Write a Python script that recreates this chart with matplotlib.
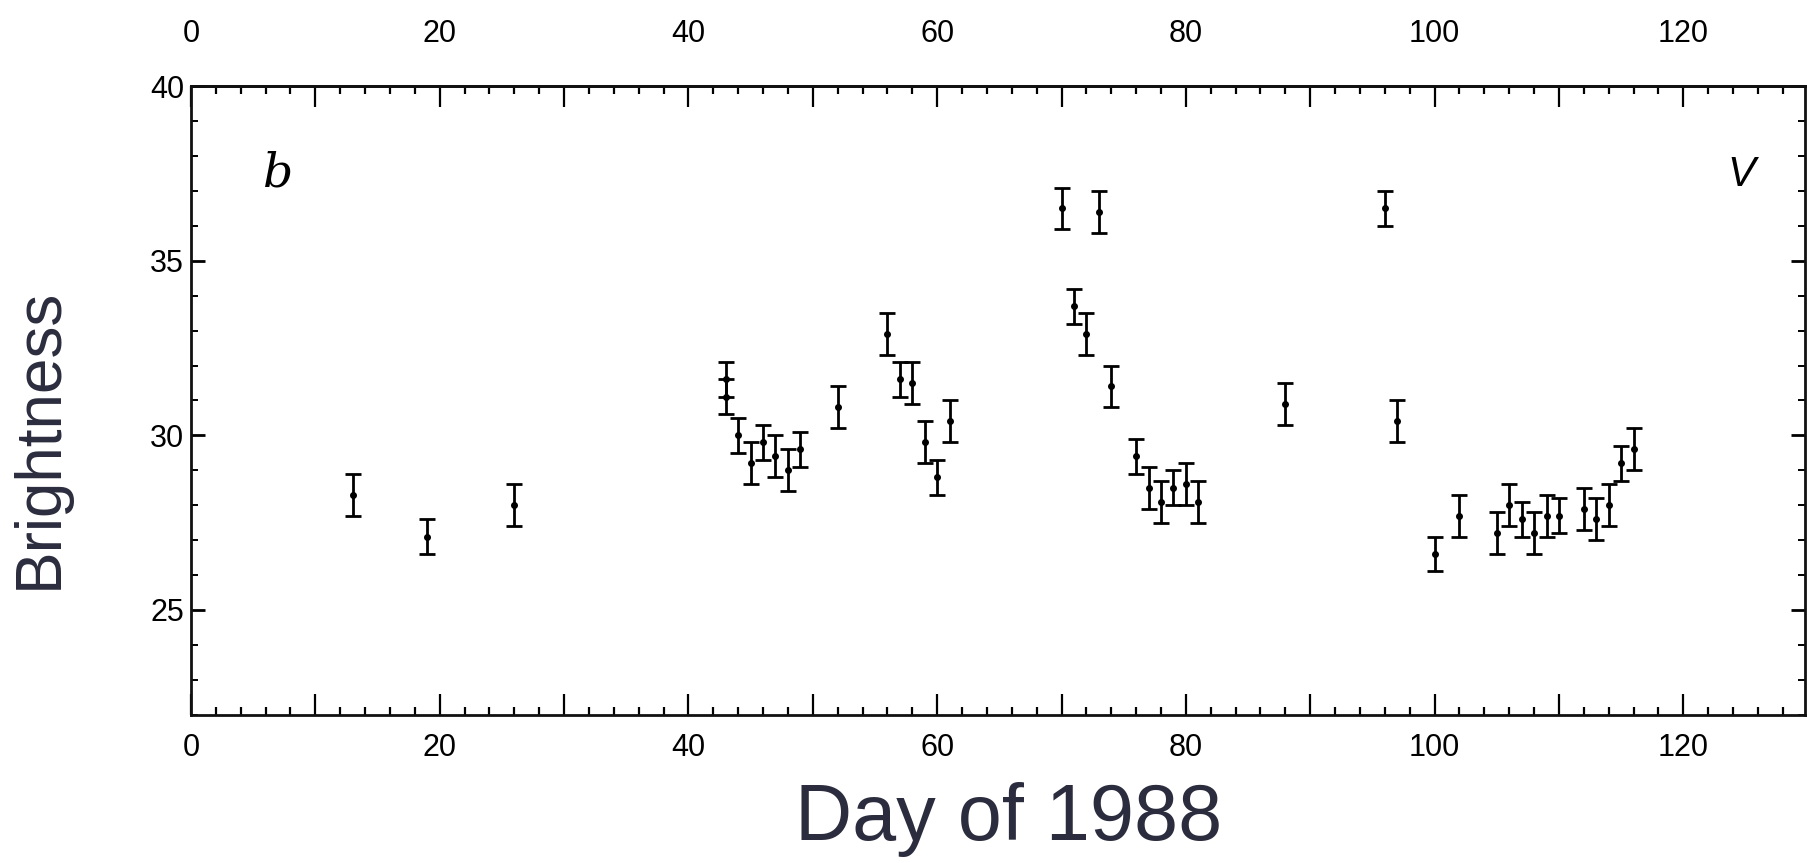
import numpy as np
from matplotlib import pyplot as plt
from matplotlib import font_manager
from matplotlib.ticker import MultipleLocator, FuncFormatter

# values
days = [13, 19, 26, 43, 43, 44, 45, 46, 47, 48, 49, 52, 56, 57, 58, 59, 60, 61,
        70, 71, 72, 73, 74, 76, 77, 78, 79, 80, 81, 88, 96, 97, 100, 102, 105,
        106, 107, 108, 109, 110, 112, 113, 114, 115, 116]
brightness = [28.3, 27.1, 28.0, 31.6, 31.1, 30.0, 29.2, 29.8, 29.4, 29.0, 29.6,
              30.8, 32.9, 31.6, 31.5, 29.8, 28.8, 30.4, 36.5, 33.7, 32.9, 36.4,
              31.4, 29.4, 28.5, 28.1, 28.5, 28.6, 28.1, 30.9, 36.5, 30.4, 26.6,
              27.7, 27.2, 28.0, 27.6, 27.2, 27.7, 27.7, 27.9, 27.6, 28.0, 29.2,
              29.6]
errors = [0.6, 0.5, 0.6, 0.5, 0.5, 0.5, 0.6, 0.5, 0.6, 0.6, 0.5, 0.6, 0.6, 0.5,
          0.6, 0.6, 0.5, 0.6, 0.6, 0.5, 0.6, 0.6, 0.6, 0.5, 0.6, 0.6, 0.5, 0.6,
          0.6, 0.6, 0.5, 0.6, 0.5, 0.6, 0.6, 0.6, 0.5, 0.6, 0.6, 0.5, 0.6, 0.6,
          0.6, 0.5, 0.6]

names = {f.name for f in font_manager.fontManager.ttflist}
tick_font = 'Liberation Sans Narrow' if 'Liberation Sans Narrow' in names else 'Liberation Sans'
plt.rcParams['font.family'] = ['Liberation Sans', 'DejaVu Sans']

fig = plt.figure(figsize=(18.07, 8.63), dpi=100)
ax = fig.add_axes([0.1057, 0.172, 0.8933, 0.728])

ax.errorbar(days, brightness, yerr=errors, fmt='o', color='black',
            markersize=4, elinewidth=2, capsize=6, capthick=2)

ax.set_xlim(0, 129.8)
ax.set_ylim(22, 40)

day_fmt = FuncFormatter(lambda v, p: '%d' % v if int(round(v)) % 20 == 0 else '')

ax.xaxis.set_major_locator(MultipleLocator(10))
ax.xaxis.set_minor_locator(MultipleLocator(2))
ax.yaxis.set_major_locator(MultipleLocator(5))
ax.yaxis.set_minor_locator(MultipleLocator(1))
ax.xaxis.set_major_formatter(day_fmt)

ax.tick_params(axis='both', which='both', direction='in',
               top=False, right=True, labelright=False, color='black')
ax.tick_params(axis='x', which='major', length=15, width=1.6, pad=13)
ax.tick_params(axis='x', which='minor', length=6, width=1.6)
ax.tick_params(axis='y', which='major', length=10, width=2, pad=5)
ax.tick_params(axis='y', which='minor', length=5, width=1.4)

# top axis carries its own labels, set higher above the frame
top = ax.secondary_xaxis('top')
top.xaxis.set_major_locator(MultipleLocator(10))
top.xaxis.set_minor_locator(MultipleLocator(2))
top.xaxis.set_major_formatter(day_fmt)
top.tick_params(axis='x', which='both', direction='in', color='black')
top.tick_params(axis='x', which='major', length=15, width=1.6, pad=27)
top.tick_params(axis='x', which='minor', length=6, width=1.6)
top.spines['top'].set_linewidth(2)

for lab in (ax.get_xticklabels() + ax.get_yticklabels()
            + top.get_xticklabels()):
    lab.set_family([tick_font, 'DejaVu Sans'])
    lab.set_fontsize(22)

for s in ax.spines.values():
    s.set_linewidth(2)
    s.set_color('#111111')

ax.text(7, 37.5, 'b', family='DejaVu Serif', style='italic',
        fontsize=34, ha='center', va='center')
ax.text(124.7, 37.45, 'V', style='italic', fontsize=30,
        ha='center', va='center')

fig.text(0.558, 0.05, 'Day of 1988', ha='center', va='center',
         fontsize=57, color='#2b2d3e')
fig.text(0.022, 0.492, 'Brightness', ha='center', va='center',
         rotation=90, fontsize=46, color='#2b2d3e')

fig.savefig('out.png', dpi=100, facecolor='white')
